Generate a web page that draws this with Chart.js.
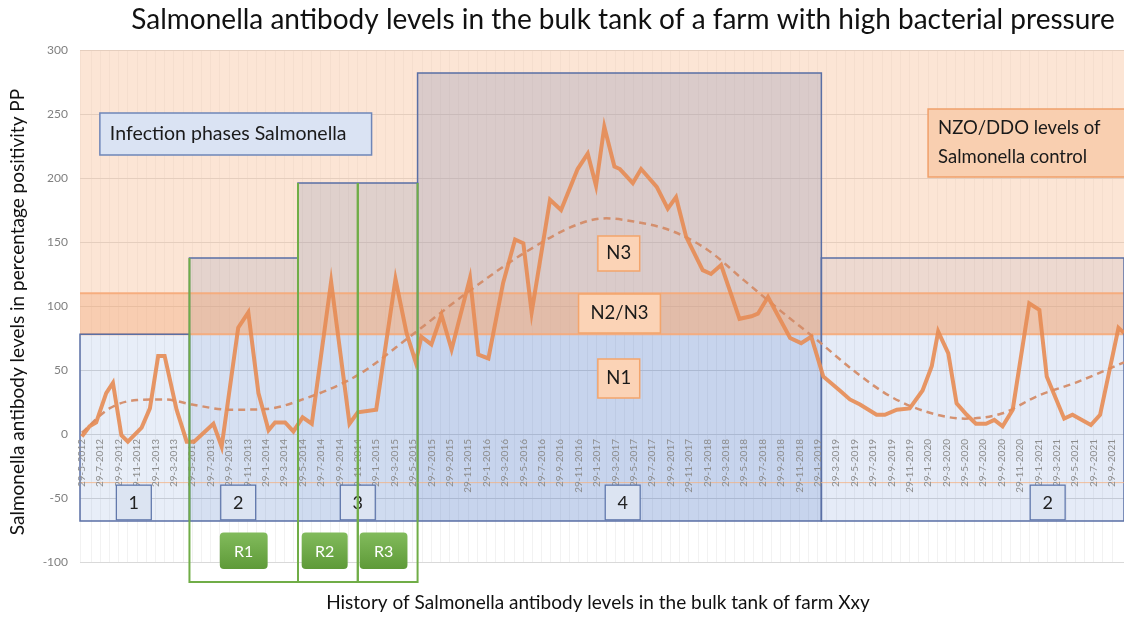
<!DOCTYPE html>
<html>
<head>
<meta charset="utf-8">
<script src="https://cdn.jsdelivr.net/npm/chart.js@4/dist/chart.umd.min.js"></script>
<style>
  html, body { margin: 0; padding: 0; background: #fff; }
  canvas { display: block; }
</style>
</head>
<body>
<canvas id="chart" width="1124" height="617"></canvas>
<script>
/* Salmonella antibody levels in bulk tank milk */

// sample moments, in months after 29-5-2012
const sampleMonths = [0, 0.84, 1.56, 2.65, 3.38, 4.3, 5, 6.5, 7.4, 8.3, 9, 10.3, 11.4, 12.2, 14.3, 15.2,
  17, 18.1, 19.2, 20.3, 21, 22.1, 23, 24, 25, 27.1, 29.1, 30, 32, 34.1, 35.3, 36.3, 36.9, 38, 39.1,
  40.2, 42.2, 43.1, 44.2, 45.8, 47.1, 48, 48.9, 50.9, 52.1, 53.9, 55, 55.9, 56.8, 57.9, 58.5, 59.9,
  60.8, 62.5, 63.7, 64.6, 65.7, 67.5, 68.4, 69.5, 71.5, 72.8, 73.5, 74.6, 77, 78.2, 79.3, 80.6, 82.4,
  83.5, 84.6, 86.4, 87.3, 88.6, 90, 91.4, 92.4, 93.1, 94.2, 95.1, 96.2, 97.2, 98.3, 99.2, 100.1,
  101.2, 103, 104.1, 104.9, 106.8, 107.7, 109.7, 110.7, 112.7, 113.3];
const ppValues = [-2, 6, 9, 32, 40, -1, -6, 5, 20, 61, 61, 19, -6, -6, 8, -10,
  83, 95, 32, 3, 9, 9, 2, 13, 8, 119, 8, 17, 19, 121, 79, 56, 76, 70, 93,
  66, 122, 62, 59, 118, 152, 149, 95, 183, 175, 207, 219, 194, 240, 209, 207, 196,
  207, 193, 176, 185, 154, 128, 125, 132, 90, 92, 94, 107, 75, 71, 76, 45, 34,
  27, 23, 15, 15, 19, 20, 34, 53, 80, 63, 24, 15, 8, 8, 11, 6,
  19, 102, 97, 45, 12, 15, 7, 15, 83, 79];

// polynomial trend line
const trendMonths = [0, 3, 6, 9, 12, 16, 20, 24, 30, 36, 42, 48, 54, 57, 60, 64, 68, 72, 76, 80, 84, 88, 92, 96, 100, 104, 108, 113.3];
const trendValues = [1, 20, 26.5, 27, 23, 19, 19.5, 27, 46, 78, 111, 141, 164, 168.5, 166, 159, 144, 120, 96, 73, 49, 29, 17, 12, 16, 30, 40, 56];

// category labels, one every 2 months
const tickLabels = [
  '29-5-2012', '29-7-2012', '29-9-2012', '29-11-2012',
  '29-1-2013', '29-3-2013', '29-5-2013', '29-7-2013', '29-9-2013', '29-11-2013',
  '29-1-2014', '29-3-2014', '29-5-2014', '29-7-2014', '29-9-2014', '29-11-2014',
  '29-1-2015', '29-3-2015', '29-5-2015', '29-7-2015', '29-9-2015', '29-11-2015',
  '29-1-2016', '29-3-2016', '29-5-2016', '29-7-2016', '29-9-2016', '29-11-2016',
  '29-1-2017', '29-3-2017', '29-5-2017', '29-7-2017', '29-9-2017', '29-11-2017',
  '29-1-2018', '29-3-2018', '29-5-2018', '29-7-2018', '29-9-2018', '29-11-2018',
  '29-1-2019', '29-3-2019', '29-5-2019', '29-7-2019', '29-9-2019', '29-11-2019',
  '29-1-2020', '29-3-2020', '29-5-2020', '29-7-2020', '29-9-2020', '29-11-2020',
  '29-1-2021', '29-3-2021', '29-5-2021', '29-7-2021', '29-9-2021'
];
const tickEvery = 2;

// infection phases
const phaseNames = ['1', '2', '3', '4', '2'];
const phaseFrom = [-0.2, 11.7, 23.5, 36.5, 80.4];
const phaseTo = [11.7, 23.5, 36.5, 80.4, 113.3];
const phaseTop = [78, 137.5, 196, 282, 137.5];
const phaseBottom = -68;

// NZO/DDO control levels
const levelN1 = 78;
const levelN2 = 110;
const labelBase = -38;

// rounds R1..R3
const roundNames = ['R1', 'R2', 'R3'];
const roundFrom = [11.7, 23.5, 30];
const roundTo = [23.5, 30, 36.5];
const roundTop = [137.5, 196, 196];
const roundBottom = -115.6;

const FONT = 'Lato, "Open Sans", sans-serif';

// shading per phase box (alpha of the blue)
const phaseShade = [0.12, 0.22, 0.26, 0.30, 0.14];

// text boxes, in data units [x1, x2, yTop, yBottom]
const notes = {
  infection: [1.96, 31.5, 250.8, 218],
  nzo: [92, 113.6, 254, 200.8],
  n3: [56.1, 60.65, 154.7, 127.3],
  n2n3: [54, 62.9, 109.4, 78.9],
  n1: [56.1, 60.65, 58.6, 28.1],
  phaseLabelY: [-40, -67],
  phaseLabelX: [5.65, 17, 30, 58.8, 105],
  roundLabelX: [[15, 20.2], [23.9, 28.9], [30.2, 35.4]],
  roundLabelY: [-77, -105.5]
};

function rect(ctx, x1, y1, x2, y2, fill, stroke, lw) {
  ctx.beginPath();
  ctx.rect(x1, y1, x2 - x1, y2 - y1);
  if (fill) { ctx.fillStyle = fill; ctx.fill(); }
  if (stroke) { ctx.strokeStyle = stroke; ctx.lineWidth = lw || 1; ctx.stroke(); }
}

const backdrop = {
  id: 'backdrop',
  beforeDatasetsDraw(chart) {
    const { ctx, chartArea: a, scales: { x, y } } = chart;
    ctx.save();
    // phase fills
    phaseNames.forEach((n, i) => {
      rect(ctx, x.getPixelForValue(phaseFrom[i]), y.getPixelForValue(phaseTop[i]),
        x.getPixelForValue(phaseTo[i]), y.getPixelForValue(phaseBottom),
        `rgba(68,114,196,${phaseShade[i]})`);
    });
    // control zone overlay
    rect(ctx, a.left, a.top, a.right, y.getPixelForValue(levelN1), 'rgba(247,190,150,0.40)');
    rect(ctx, a.left, y.getPixelForValue(levelN2), a.right, y.getPixelForValue(levelN1), 'rgba(240,160,110,0.35)');
    ctx.strokeStyle = 'rgba(246,170,120,0.9)';
    ctx.lineWidth = 2;
    [levelN1, levelN2].forEach(v => {
      ctx.beginPath();
      ctx.moveTo(a.left, y.getPixelForValue(v));
      ctx.lineTo(a.right, y.getPixelForValue(v));
      ctx.stroke();
    });
    // phase outlines
    phaseNames.forEach((n, i) => {
      rect(ctx, x.getPixelForValue(phaseFrom[i]), y.getPixelForValue(phaseTop[i]),
        x.getPixelForValue(phaseTo[i]), y.getPixelForValue(phaseBottom),
        null, '#5a6fa5', 1.5);
    });
    // base line under the date labels
    ctx.strokeStyle = 'rgba(244,177,131,0.8)';
    ctx.lineWidth = 1;
    ctx.beginPath();
    ctx.moveTo(a.left, y.getPixelForValue(labelBase));
    ctx.lineTo(a.right, y.getPixelForValue(labelBase));
    ctx.stroke();
    // rotated date labels
    ctx.fillStyle = '#8c8c8c';
    ctx.font = `10px ${FONT}`;
    ctx.textAlign = 'right';
    ctx.textBaseline = 'middle';
    tickLabels.forEach((lbl, i) => {
      ctx.save();
      ctx.translate(x.getPixelForValue(i * tickEvery), y.getPixelForValue(0) + 5);
      ctx.rotate(-Math.PI / 2);
      ctx.fillText(lbl, 0, 0);
      ctx.restore();
    });
    ctx.restore();
  },
  afterDatasetsDraw(chart) {
    const { ctx, scales: { x, y } } = chart;
    const X = v => x.getPixelForValue(v);
    const Y = v => y.getPixelForValue(v);
    ctx.save();
    ctx.textBaseline = 'middle';

    function textBox(b, lines, fill, stroke, size, align) {
      rect(ctx, X(b[0]), Y(b[2]), X(b[1]), Y(b[3]), fill, stroke, 1.5);
      ctx.fillStyle = '#1a1a1a';
      ctx.font = `${size}px ${FONT}`;
      const top = Y(b[2]), bot = Y(b[3]);
      const lh = 29;
      const y0 = (top + bot) / 2 - (lines.length - 1) * lh / 2;
      lines.forEach((t, k) => {
        if (align === 'left') {
          ctx.textAlign = 'left';
          ctx.fillText(t, X(b[0]) + 10, y0 + k * lh);
        } else {
          ctx.textAlign = 'center';
          ctx.fillText(t, (X(b[0]) + X(b[1])) / 2, y0 + k * lh);
        }
      });
    }

    textBox(notes.infection, ['Infection phases Salmonella'], '#dae3f3', '#6f86b8', 19.5, 'left');
    textBox(notes.nzo, ['NZO/DDO levels of', 'Salmonella control'], '#f9cfb0', '#f0a06a', 18.5, 'left');
    textBox(notes.n3, ['N3'], '#fbd3b6', '#f3a56c', 18.5);
    textBox(notes.n2n3, ['N2/N3'], '#fbd3b6', '#f3a56c', 18.5);
    textBox(notes.n1, ['N1'], '#fbd3b6', '#f3a56c', 18.5);

    // phase number boxes
    const half = (X(notes.phaseLabelX[0] + 1.9) - X(notes.phaseLabelX[0]));
    phaseNames.forEach((n, i) => {
      const cx = X(notes.phaseLabelX[i]);
      rect(ctx, cx - half, Y(notes.phaseLabelY[0]), cx + half, Y(notes.phaseLabelY[1]), '#dce4f2', '#5a72a8', 1.2);
      ctx.fillStyle = '#222';
      ctx.font = `18px ${FONT}`;
      ctx.textAlign = 'center';
      ctx.fillText(n, cx, (Y(notes.phaseLabelY[0]) + Y(notes.phaseLabelY[1])) / 2 + 1);
    });

    // green round frames (open top, top edge belongs to phase box)
    ctx.strokeStyle = '#70ad47';
    ctx.lineWidth = 2;
    roundNames.forEach((r, i) => {
      ctx.beginPath();
      ctx.moveTo(X(roundFrom[i]), Y(roundTop[i]));
      ctx.lineTo(X(roundFrom[i]), Y(roundBottom));
      ctx.lineTo(X(roundTo[i]), Y(roundBottom));
      ctx.lineTo(X(roundTo[i]), Y(roundTop[i]));
      ctx.stroke();
    });

    // green round labels
    roundNames.forEach((r, i) => {
      const x1 = X(notes.roundLabelX[i][0]), x2 = X(notes.roundLabelX[i][1]);
      const y1 = Y(notes.roundLabelY[0]), y2 = Y(notes.roundLabelY[1]);
      const g = ctx.createLinearGradient(0, y1, 0, y2);
      g.addColorStop(0, '#82bb5c');
      g.addColorStop(1, '#5e9a38');
      ctx.beginPath();
      ctx.roundRect(x1, y1, x2 - x1, y2 - y1, 4);
      ctx.fillStyle = g;
      ctx.fill();
      ctx.fillStyle = '#fff';
      ctx.font = `16px ${FONT}`;
      ctx.textAlign = 'center';
      ctx.fillText(r, (x1 + x2) / 2, (y1 + y2) / 2 + 1);
    });
    ctx.restore();
  },
  afterDraw(chart) {
    const { ctx } = chart;
    ctx.save();
    ctx.fillStyle = '#111';
    ctx.textAlign = 'center';
    ctx.textBaseline = 'middle';
    ctx.font = `28px ${FONT}`;
    ctx.fillText('Salmonella antibody levels in the bulk tank of a farm with high bacterial pressure', 623, 20);
    ctx.font = `19px ${FONT}`;
    ctx.fillText('History of Salmonella antibody levels in the bulk tank of farm Xxy', 598, 603);
    ctx.translate(18, 312);
    ctx.rotate(-Math.PI / 2);
    ctx.fillText('Salmonella antibody levels in percentage positivity PP', 0, 0);
    ctx.restore();
  }
};

new Chart(document.getElementById('chart'), {
  type: 'line',
  data: {
    datasets: [
      {
        label: 'PP',
        data: sampleMonths.map((m, i) => ({ x: m, y: ppValues[i] })),
        borderColor: 'rgba(231,140,84,0.9)',
        borderWidth: 4,
        pointRadius: 0,
        tension: 0,
        order: 0
      },
      {
        label: 'Trend',
        data: trendMonths.map((m, i) => ({ x: m, y: trendValues[i] })),
        borderColor: 'rgba(212,140,104,0.95)',
        borderWidth: 2.5,
        borderDash: [7, 5],
        pointRadius: 0,
        cubicInterpolationMode: 'monotone',
        order: 1
      }
    ]
  },
  options: {
    responsive: false,
    animation: false,
    layout: { padding: { top: 50, bottom: 55, left: 0, right: 0 } },
    plugins: { legend: { display: false }, tooltip: { enabled: false } },
    scales: {
      x: {
        type: 'linear',
        min: -0.2,
        max: 113.3,
        ticks: { display: false, stepSize: 1, maxTicksLimit: 200 },
        grid: { color: 'rgba(0,0,0,0.05)', drawTicks: false },
        border: { display: false }
      },
      y: {
        min: -100,
        max: 300,
        ticks: { stepSize: 50, color: '#808080', font: { size: 12, family: FONT }, padding: 12 },
        grid: { color: '#d9d9d9', drawTicks: false },
        border: { display: false },
        afterFit: s => { s.width = 80; }
      }
    }
  },
  plugins: [backdrop]
});
</script>
</body>
</html>
